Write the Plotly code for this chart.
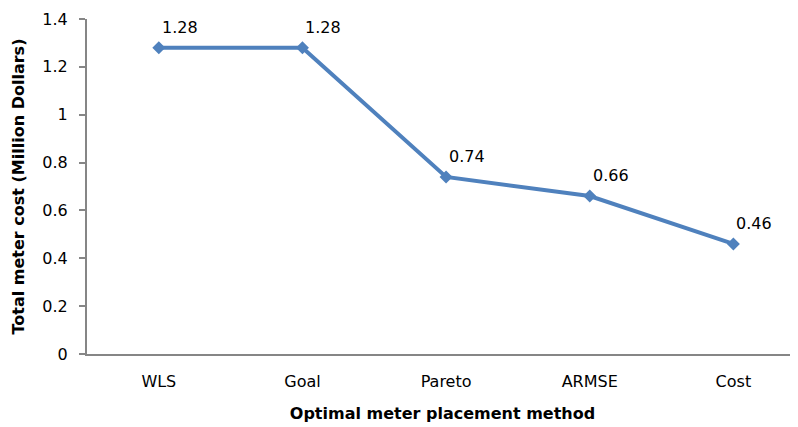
import plotly.graph_objects as go

methods = ["WLS", "Goal", "Pareto", "ARMSE", "Cost"]
costs = [1.28, 1.28, 0.74, 0.66, 0.46]
cost_labels = ["1.28", "1.28", "0.74", "0.66", "0.46"]
y_ticks = [0, 0.2, 0.4, 0.6, 0.8, 1, 1.2, 1.4]
y_tick_labels = ["0", "0.2", "0.4", "0.6", "0.8", "1", "1.2", "1.4"]

FONT = "DejaVu Sans, sans-serif"

fig = go.Figure()
fig.add_trace(go.Scatter(
    x=list(range(len(methods))), y=costs,
    mode="lines+markers",
    line=dict(color="#4F81BD", width=4),
    marker=dict(symbol="diamond", size=10, color="#4F81BD"),
    cliponaxis=False, showlegend=False, hoverinfo="skip",
))
for i, (v, lab) in enumerate(zip(costs, cost_labels)):
    fig.add_annotation(
        x=i, y=v, text=lab, showarrow=False,
        xanchor="left", yanchor="bottom", xshift=1, yshift=9,
        font=dict(family=FONT, size=16, color="#000000"),
    )

fig.update_layout(
    width=790, height=419,
    margin=dict(l=79, r=0, t=11, b=73),
    paper_bgcolor="white", plot_bgcolor="white",
    font=dict(family=FONT, size=16, color="#000000"),
    xaxis=dict(
        range=[-0.5, 4.45], tickvals=list(range(len(methods))), ticktext=methods,
        showgrid=False, zeroline=False, showline=True, linecolor="#868686", linewidth=2,
        ticks="", ticklabelstandoff=12, automargin=False,
        tickfont=dict(family=FONT, size=16),
        title=dict(text="<b>Optimal meter placement method</b>", font=dict(family=FONT, size=16), standoff=18),
    ),
    yaxis=dict(
        range=[0, 1.4], tickvals=y_ticks, ticktext=y_tick_labels,
        showgrid=False, zeroline=False, showline=True, linecolor="#868686", linewidth=2,
        ticks="outside", ticklen=6, tickcolor="#868686", tickwidth=1.5, automargin=False,
        ticklabelstandoff=8,
        tickfont=dict(family=FONT, size=16),
        title=dict(text="<b>Total meter cost (Million Dollars)</b>", font=dict(family=FONT, size=16), standoff=14),
    ),
)

fig.write_html("out.html")
